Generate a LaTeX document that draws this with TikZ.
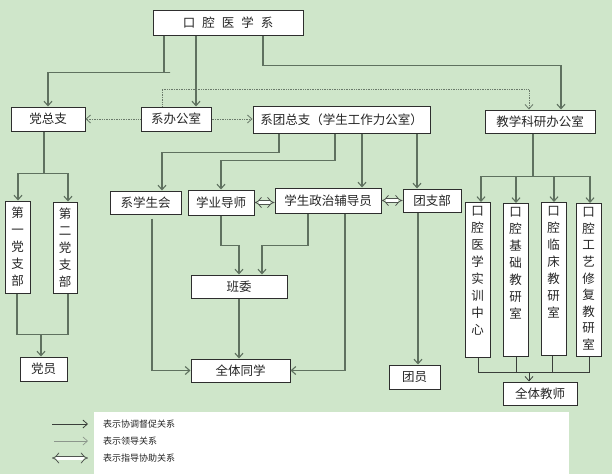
\documentclass[tikz,border=0pt]{standalone}
\usepackage{fontspec}
\setmainfont{Noto Sans CJK SC}
\usetikzlibrary{arrows.meta}
\definecolor{bg}{HTML}{CFE6CA}
\definecolor{linec}{HTML}{5F715F}
\definecolor{boxc}{HTML}{2E2E2E}
\definecolor{txtc}{HTML}{262626}
\definecolor{dotc}{HTML}{6A7A6A}
\definecolor{thinc}{HTML}{3A3F3A}
\definecolor{legc}{HTML}{8C968C}
\definecolor{dblc}{HTML}{505550}
\newcommand\myvcol[2]{\parbox[c][#1][t]{16pt}{\centering #2}}
\begin{document}
\begin{tikzpicture}[x=1pt,y=-1pt,
  box/.style={draw=boxc, fill=white, line width=1pt, inner sep=0pt, text=txtc, font=\fontsize{12.5}{17}\selectfont, align=center},
  ln/.style={draw=linec, line width=1.1pt},
  ar/.style={ln, -{Straight Barb[length=4.5pt,width=8pt]}},
  tln/.style={draw=thinc, line width=0.8pt},
  tar/.style={tln, -{Straight Barb[length=4.5pt,width=8pt]}},
  dar/.style={draw=dotc, line width=0.8pt, dash pattern=on 1pt off 0.7pt, -{Straight Barb[length=4.5pt,width=8pt]}},
  dbl/.style={draw=dblc, line width=0.8pt, double=white, double distance=3pt, {Implies}-{Implies}},
  legtxt/.style={font=\fontsize{9}{10}\selectfont, text=txtc, inner sep=0pt, anchor=west},
]
\fill[bg] (0,0) rectangle (612,474);
\useasboundingbox (0,0) rectangle (612,474);
\fill[white] (94,412) rectangle (569,474);

% nodes
\node[box, minimum width=150pt, minimum height=25pt] (top) at (228,22.5) {口\hspace{7pt}腔\hspace{7pt}医\hspace{7pt}学\hspace{7pt}系};
\node[box, minimum width=74pt, minimum height=24pt] (dzz) at (48,119) {党总支};
\node[box, minimum width=70pt, minimum height=24pt] (xbgs) at (176,119) {系办公室};
\node[box, minimum width=177pt, minimum height=27pt] (xtzz) at (341.5,119.5) {系团总支（学生工作力公室）};
\node[box, minimum width=110pt, minimum height=23pt] (jxky) at (540,121.5) {教学科研办公室};
\node[box, minimum width=25pt, minimum height=92pt] (dyzb) at (17.5,247) {第\\一\\党\\支\\部};
\node[box, minimum width=24pt, minimum height=91pt] (dezb) at (65,247.5) {第\\二\\党\\支\\部};
\node[box, minimum width=47pt, minimum height=24pt] (dy) at (43.5,369) {党员};
\node[box, minimum width=71pt, minimum height=23pt] (xxsh) at (145.5,202.5) {系学生会};
\node[box, minimum width=66pt, minimum height=25pt] (xyds) at (221,202.5) {学业导师};
\node[box, minimum width=106pt, minimum height=25pt] (fdy) at (328,200.5) {学生政治辅导员};
\node[box, minimum width=58pt, minimum height=23pt] (tzb) at (432,200.5) {团支部};
\node[box, minimum width=96pt, minimum height=23pt] (bw) at (239,286.5) {班委};
\node[box, minimum width=99pt, minimum height=23pt] (qttx) at (240.5,370.5) {全体同学};
\node[box, minimum width=51pt, minimum height=24pt] (ty) at (414.5,377) {团员};
\node[box, minimum width=74pt, minimum height=23pt] (qtjs) at (540,393.5) {全体教师};
\node[box, minimum width=25pt, anchor=north, inner ysep=4pt] (v1) at (477.5,202) {\myvcol{147pt}{口\\腔\\医\\学\\实\\训\\中\\心}};
\node[box, minimum width=25pt, anchor=north, inner ysep=4pt] (v2) at (515.5,203) {\myvcol{145pt}{口\\腔\\基\\础\\教\\研\\室}};
\node[box, minimum width=25pt, anchor=north, inner ysep=4pt] (v3) at (553.5,202) {\myvcol{145pt}{口\\腔\\临\\床\\教\\研\\室}};
\node[box, minimum width=25pt, anchor=north, inner ysep=4pt] (v4) at (588.5,203) {\myvcol{145pt}{\baselineskip=16.6pt 口\\腔\\工\\艺\\修\\复\\教\\研\\室}};

% connectors from top
\draw[ar] ([xshift=-64pt]top.south) -- ++(0,37) -- ++(6,0) -| (dzz.north);
\draw[ar] ([xshift=-32pt]top.south) -- ([xshift=-32pt]top.south |- xbgs.north);
\draw[ar] ([xshift=35pt]top.south) -- ++(0,30) -| ([xshift=21pt]jxky.north);

% dotted
\draw[dar] (xbgs.west) -- (dzz.east);
\draw[dar] (xbgs.east) -- (xbgs.east -| xtzz.west);
\draw[dar] ([xshift=-14pt]xbgs.north) -- ++(0,-17) -| ([xshift=-11pt]jxky.north);

% from xtzz
\draw[ar] ([xshift=-62.5pt]xtzz.south) -- ++(0,19) -| ([xshift=16.5pt]xxsh.north);
\draw[ar] ([xshift=-6.5pt]xtzz.south) -- ++(0,27) -| (xyds.north);
\draw[ar] ([xshift=20.5pt]xtzz.south) -- ([xshift=20.5pt]xtzz.south |- fdy.north);
\draw[ar] ([xshift=75.5pt]xtzz.south) -- ([xshift=75.5pt]xtzz.south |- tzb.north);

% double arrows
\draw[dbl] (xyds.east) -- (xyds.east -| fdy.west);
\draw[dbl] (fdy.east) -- (tzb.west);

% to bw and qttx
\draw[ar] (xyds.south) -- ++(0,30) -| (bw.north);
\draw[ar] ([xshift=-20pt]fdy.south) -- ++(0,32) -| ([xshift=23pt]bw.north);
\draw[ar] ([xshift=6.5pt,yshift=-4pt]xxsh.south) |- (qttx.west);
\draw[ar] (bw.south) -- (bw.south |- qttx.north);
\draw[ar] ([xshift=17pt]fdy.south) |- (qttx.east);
\draw[ar] ([xshift=-14pt]tzb.south) -- ([xshift=-14pt]tzb.south |- ty.north);

% jxky to teaching offices
\coordinate (jbus) at ([xshift=-7pt,yshift=-43pt]jxky.south);
\draw[ln] ([xshift=-7pt]jxky.south) -- (jbus);
\draw[ar] (jbus) -| ([xshift=3.5pt]v1.north);
\draw[ar] (jbus) -| ([xshift=0.5pt]v2.north);
\draw[ar] (jbus) -| ([xshift=0.5pt]v3.north);
\draw[ar] (jbus) -| ([xshift=1.5pt]v4.north);

\coordinate (tbus) at ([xshift=-11pt,yshift=9pt]qtjs.north);
\draw[tln] ([xshift=1pt]v1.south) |- (tbus);
\draw[tln] ([xshift=0.5pt]v2.south) |- (tbus);
\draw[tln] ([xshift=-1.5pt]v3.south) |- (tbus);
\draw[tln] ([xshift=0.5pt]v4.south) |- (tbus);
\draw[tar] (tbus) -- ([xshift=-11pt]qtjs.north);

% party branch
\coordinate (pbus) at ([xshift=-4pt,yshift=-42pt]dzz.south);
\draw[ln] ([xshift=-4pt]dzz.south) -- (pbus);
\draw[ar] (pbus) -| ([xshift=0.5pt]dyzb.north);
\draw[ar] (pbus) -| ([xshift=3pt]dezb.north);
\coordinate (dbus) at ([xshift=-2.5pt,yshift=22pt]dy.north);
\draw[ln] ([xshift=-0.5pt]dyzb.south) |- (dbus);
\draw[ln] ([xshift=3pt]dezb.south) |- (dbus);
\draw[ar] (dbus) -- ([xshift=-2.5pt]dy.north);

% legend
\node[legtxt] (l1) at (103,424) {表示协调督促关系};
\node[legtxt] (l2) at (103,441) {表示领导关系};
\node[legtxt] (l3) at (103,458) {表示指导协助关系};
\draw[tar] ([xshift=-51pt]l1.west) -- ([xshift=-15pt]l1.west);
\draw[draw=legc, line width=0.7pt, -{Straight Barb[length=4.5pt,width=8pt]}] ([xshift=-49pt]l2.west) -- ([xshift=-15pt]l2.west);
\draw[dbl] ([xshift=-51pt]l3.west) -- ([xshift=-15pt]l3.west);
\end{tikzpicture}
\end{document}
